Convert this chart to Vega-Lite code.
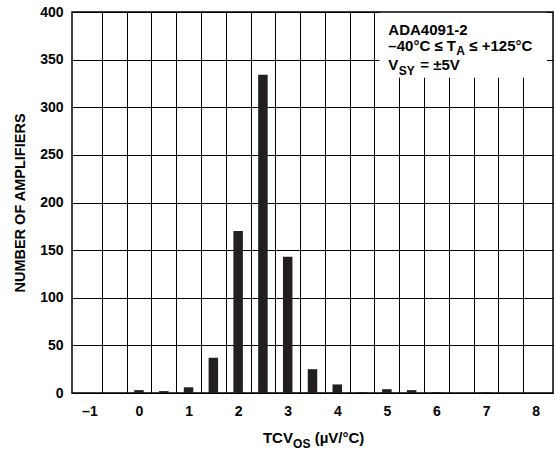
{
  "$schema": "https://vega.github.io/schema/vega-lite/v6.json",
  "width": 481,
  "height": 381,
  "autosize": {"type": "none"},
  "padding": {"left": 72, "top": 12, "right": 2, "bottom": 59},
  "background": "white",
  "config": {
    "view": {"stroke": "black", "strokeWidth": 1.5},
    "font": "Liberation Sans",
    "axis": {
      "labelFont": "Liberation Sans", "labelFontWeight": "bold", "labelColor": "black",
      "titleFont": "Liberation Sans", "titleFontWeight": "bold", "titleColor": "black",
      "gridColor": "black", "gridOpacity": 1, "gridWidth": 1,
      "ticks": false, "domain": false
    },
    "text": {"font": "Liberation Sans", "fontWeight": "bold", "color": "black"}
  },
  "resolve": {"axis": {"x": "independent", "y": "independent"}},
  "layer": [
    {
      "data": {"values": [
        {"tcv": 0, "count": 3}, {"tcv": 0.5, "count": 2}, {"tcv": 1, "count": 6},
        {"tcv": 1.5, "count": 37}, {"tcv": 2, "count": 170}, {"tcv": 2.5, "count": 334},
        {"tcv": 3, "count": 143}, {"tcv": 3.5, "count": 25}, {"tcv": 4, "count": 9},
        {"tcv": 4.5, "count": 1}, {"tcv": 5, "count": 4}, {"tcv": 5.5, "count": 3},
        {"tcv": 6, "count": 1}, {"tcv": 7, "count": 1}
      ]},
      "mark": {"type": "bar", "color": "#231f20", "size": 9.5},
      "encoding": {
        "x": {"field": "tcv", "type": "quantitative",
              "scale": {"domain": [-1.25, 8.25], "nice": false, "zero": false},
              "axis": {"orient": "bottom", "values": [-1,0,1,2,3,4,5,6,7,8], "grid": false, "title": null,
                       "labelFontSize": 14, "labelPadding": 11,
                       "labelExpr": "datum.value < 0 ? '–' + abs(datum.value) : datum.label"}},
        "y": {"field": "count", "type": "quantitative",
              "scale": {"domain": [0, 400], "nice": false},
              "axis": {"orient": "left", "values": [0,50,100,150,200,250,300,350,400], "grid": true,
                       "title": "NUMBER OF AMPLIFIERS", "titleFontSize": 14.5, "titlePadding": 12,
                       "labelFontSize": 14, "labelPadding": 9}}
      }
    },
    {
      "data": {"values": [{}]},
      "mark": {"type": "rect", "fill": "white", "strokeWidth": 0},
      "encoding": {
        "x": {"datum": 4.85, "type": "quantitative",
              "scale": {"domain": [-1.25, 8.25], "nice": false, "zero": false},
              "axis": {"orient": "top", "values": [-0.75,-0.25,0.25,0.75,1.25,1.75,2.25,2.75,3.25,3.75,4.25,4.75,5.25,5.75,6.25,6.75,7.25,7.75],
                       "grid": true, "labels": false, "title": null}},
        "x2": {"datum": 8.23},
        "y": {"datum": 331, "type": "quantitative", "scale": {"domain": [0, 400], "nice": false}, "axis": null},
        "y2": {"datum": 399.3}
      }
    },
    {
      "data": {"values": [{"t": "ADA4091-2"}]},
      "mark": {"type": "text", "align": "left", "baseline": "alphabetic", "fontSize": 15},
      "encoding": {
        "x": {"datum": 5.03, "type": "quantitative", "axis": null},
        "y": {"datum": 375.9, "type": "quantitative", "axis": null},
        "text": {"field": "t"}
      }
    },
    {
      "data": {"values": [{"t": "–40°C ≤ T"}]},
      "mark": {"type": "text", "align": "left", "baseline": "alphabetic", "fontSize": 15},
      "encoding": {
        "x": {"datum": 5.03, "type": "quantitative", "axis": null},
        "y": {"datum": 359.4, "type": "quantitative", "axis": null},
        "text": {"field": "t"}
      }
    },
    {
      "data": {"values": [{"t": "A"}]},
      "mark": {"type": "text", "align": "left", "baseline": "alphabetic", "fontSize": 12, "dx": 67.8, "dy": 4.5},
      "encoding": {
        "x": {"datum": 5.03, "type": "quantitative", "axis": null},
        "y": {"datum": 359.4, "type": "quantitative", "axis": null},
        "text": {"field": "t"}
      }
    },
    {
      "data": {"values": [{"t": "≤ +125°C"}]},
      "mark": {"type": "text", "align": "left", "baseline": "alphabetic", "fontSize": 15, "dx": 81},
      "encoding": {
        "x": {"datum": 5.03, "type": "quantitative", "axis": null},
        "y": {"datum": 359.4, "type": "quantitative", "axis": null},
        "text": {"field": "t"}
      }
    },
    {
      "data": {"values": [{"t": "V"}]},
      "mark": {"type": "text", "align": "left", "baseline": "alphabetic", "fontSize": 15},
      "encoding": {
        "x": {"datum": 5.03, "type": "quantitative", "axis": null},
        "y": {"datum": 339.1, "type": "quantitative", "axis": null},
        "text": {"field": "t"}
      }
    },
    {
      "data": {"values": [{"t": "SY"}]},
      "mark": {"type": "text", "align": "left", "baseline": "alphabetic", "fontSize": 12, "dx": 10.5, "dy": 4.5},
      "encoding": {
        "x": {"datum": 5.03, "type": "quantitative", "axis": null},
        "y": {"datum": 339.1, "type": "quantitative", "axis": null},
        "text": {"field": "t"}
      }
    },
    {
      "data": {"values": [{"t": "= ±5V"}]},
      "mark": {"type": "text", "align": "left", "baseline": "alphabetic", "fontSize": 15, "dx": 32},
      "encoding": {
        "x": {"datum": 5.03, "type": "quantitative", "axis": null},
        "y": {"datum": 339.1, "type": "quantitative", "axis": null},
        "text": {"field": "t"}
      }
    },
    {
      "data": {"values": [{"t": "TCV"}]},
      "mark": {"type": "text", "align": "left", "baseline": "alphabetic", "fontSize": 15},
      "encoding": {
        "x": {"datum": 2.5, "type": "quantitative", "axis": null},
        "y": {"datum": -52.5, "type": "quantitative", "axis": null},
        "text": {"field": "t"}
      }
    },
    {
      "data": {"values": [{"t": "OS"}]},
      "mark": {"type": "text", "align": "left", "baseline": "alphabetic", "fontSize": 12, "dx": 30.2, "dy": 4.5},
      "encoding": {
        "x": {"datum": 2.5, "type": "quantitative", "axis": null},
        "y": {"datum": -52.5, "type": "quantitative", "axis": null},
        "text": {"field": "t"}
      }
    },
    {
      "data": {"values": [{"t": "(µV/°C)"}]},
      "mark": {"type": "text", "align": "left", "baseline": "alphabetic", "fontSize": 15, "dx": 51.8},
      "encoding": {
        "x": {"datum": 2.5, "type": "quantitative", "axis": null},
        "y": {"datum": -52.5, "type": "quantitative", "axis": null},
        "text": {"field": "t"}
      }
    }
  ]
}
